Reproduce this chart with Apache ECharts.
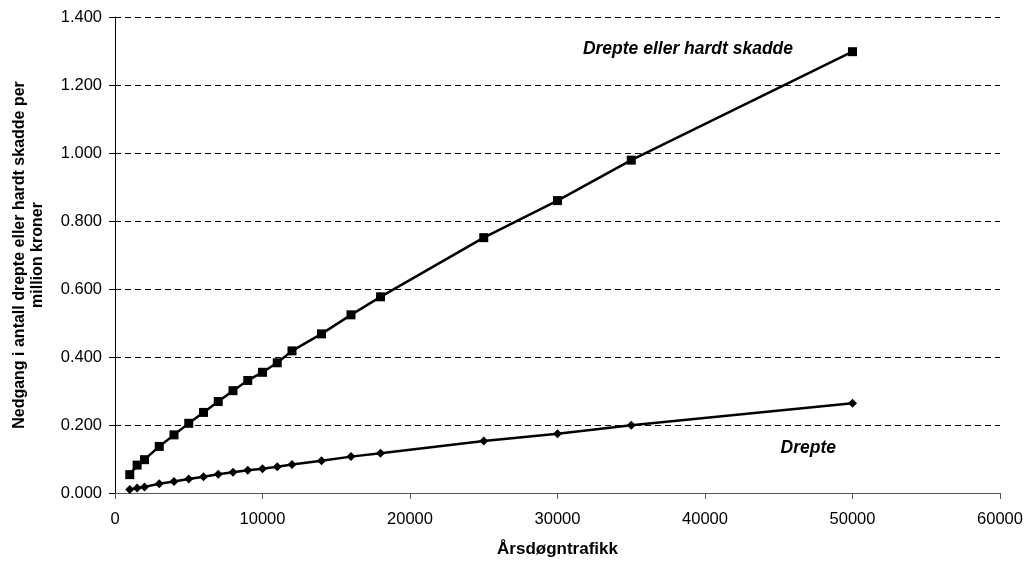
<!DOCTYPE html>
<html>
<head>
<meta charset="utf-8">
<script src="https://cdn.jsdelivr.net/npm/echarts@6/dist/echarts.min.js"></script>
<style>
  html, body { margin: 0; padding: 0; background: #fff; }
  #chart { width: 1029px; height: 563px; }
</style>
</head>
<body>
<div id="chart"></div>
<script>
// Annual average daily traffic (ÅDT)
const traffic = [1000, 1500, 2000, 3000, 4000, 5000, 6000, 7000, 8000, 9000, 10000,
  11000, 12000, 14000, 16000, 18000, 25000, 30000, 35000, 50000];
// Reduction in killed or seriously injured per million kroner
const killedOrInjured = [0.054, 0.082, 0.098, 0.137, 0.171, 0.205, 0.237, 0.269, 0.301, 0.331, 0.355,
  0.383, 0.418, 0.468, 0.524, 0.577, 0.751, 0.860, 0.979, 1.298];
// Reduction in killed per million kroner
const killed = [0.010, 0.015, 0.018, 0.027, 0.034, 0.041, 0.048, 0.055, 0.061, 0.067, 0.071,
  0.077, 0.084, 0.095, 0.107, 0.117, 0.153, 0.174, 0.199, 0.264];

const seriesNames = ['Drepte eller hardt skadde', 'Drepte'];
const xAxisTitle = 'Årsdøgntrafikk';
const yAxisTitle = 'Nedgang i antall drepte eller hardt skadde per\nmillion kroner';

const FONT = "'Liberation Sans', Arial, sans-serif";

const chart = echarts.init(document.getElementById('chart'), null, { renderer: 'canvas' });

const pairs = (xs, ys) => xs.map((x, i) => [x, ys[i]]);

chart.setOption({
  animation: false,
  backgroundColor: '#ffffff',
  grid: { left: 115, right: 29, top: 17, bottom: 70 },
  xAxis: {
    type: 'value',
    min: 0, max: 60000, interval: 10000,
    name: xAxisTitle,
    nameLocation: 'middle',
    nameGap: 48,
    nameTextStyle: { fontFamily: FONT, fontSize: 17, fontWeight: 'bold', color: '#000' },
    axisLine: { show: true, lineStyle: { color: '#555', width: 1 } },
    axisTick: { show: true, inside: false, length: 6, lineStyle: { color: '#555' } },
    axisLabel: {
      fontFamily: FONT, fontSize: 16.5, color: '#000', margin: 18,
      formatter: v => String(v)
    },
    splitLine: { show: false }
  },
  yAxis: {
    type: 'value',
    min: 0, max: 1.4, interval: 0.2,
    name: yAxisTitle,
    nameLocation: 'middle',
    nameRotate: 90,
    nameGap: 68,
    nameTextStyle: { fontFamily: FONT, fontSize: 16, fontWeight: 'bold', color: '#000', lineHeight: 18 },
    axisLine: { show: true, lineStyle: { color: '#000', width: 1 } },
    axisTick: { show: true, inside: false, length: 6, lineStyle: { color: '#000' } },
    axisLabel: {
      fontFamily: FONT, fontSize: 16.5, color: '#000', margin: 13,
      formatter: v => v.toFixed(3)
    },
    splitLine: { show: true, lineStyle: { color: '#000', width: 1, type: [6, 4] } }
  },
  series: [
    {
      name: seriesNames[0],
      type: 'line',
      data: pairs(traffic, killedOrInjured),
      symbol: 'rect',
      symbolSize: 9,
      showAllSymbol: true,
      lineStyle: { color: '#000', width: 2.5 },
      itemStyle: { color: '#000' },
      z: 3
    },
    {
      name: seriesNames[1],
      type: 'line',
      data: pairs(traffic, killed),
      symbol: 'diamond',
      symbolSize: 9,
      showAllSymbol: true,
      lineStyle: { color: '#000', width: 2.5 },
      itemStyle: { color: '#000' },
      z: 3
    }
  ],
  graphic: [
    {
      type: 'text',
      right: 1029 - 793,
      top: 40,
      style: {
        text: seriesNames[0],
        font: "italic bold 17.5px " + FONT,
        fill: '#000'
      }
    },
    {
      type: 'text',
      right: 1029 - 836,
      top: 439,
      style: {
        text: seriesNames[1],
        font: "italic bold 17.5px " + FONT,
        fill: '#000'
      }
    }
  ]
});
</script>
</body>
</html>
